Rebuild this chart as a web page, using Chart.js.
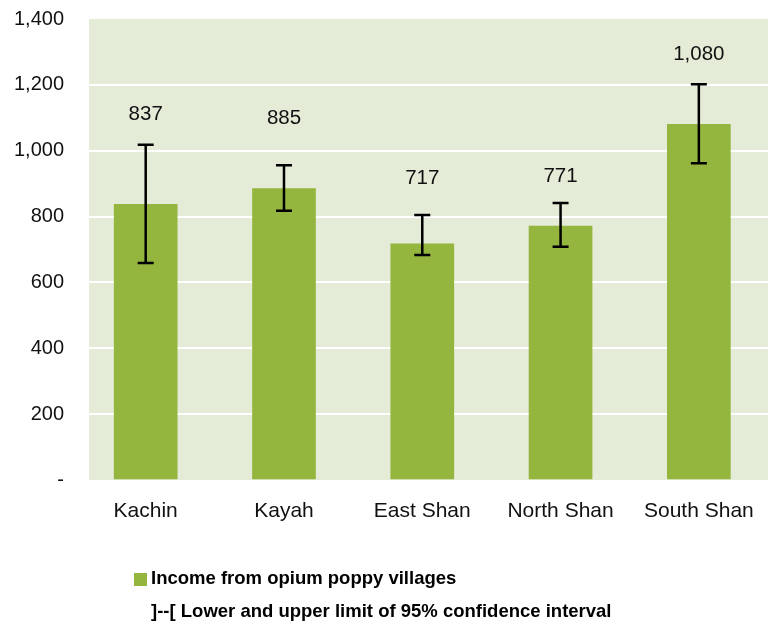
<!DOCTYPE html>
<html>
<head>
<meta charset="utf-8">
<script src="https://cdn.jsdelivr.net/npm/chart.js@4/dist/chart.umd.min.js"></script>
<style>
  html, body { margin: 0; padding: 0; background: #fff; }
  #wrap { width: 768px; height: 625px; }
</style>
</head>
<body>
<div id="wrap"><canvas id="chart"></canvas></div>
<script>
// Income per village, with 95% confidence limits
const categories = ['Kachin', 'Kayah', 'East Shan', 'North Shan', 'South Shan'];
const income = [837, 885, 717, 771, 1080];
const ciLower = [659, 818, 683, 708, 962];
const ciUpper = [1018, 956, 805, 841, 1202];
const yTicks = [0, 200, 400, 600, 800, 1000, 1200, 1400];

const FONT = "'Liberation Sans', Arial, sans-serif";
const fmt = v => v.toLocaleString('en-US');

// plot area fill
const plotBackground = {
    id: 'plotBackground',
    beforeDraw(chart) {
        const { ctx, chartArea: a } = chart;
        ctx.save();
        ctx.fillStyle = '#e4ebd7';
        ctx.fillRect(a.left, a.top, a.right - a.left, a.bottom - a.top);
        ctx.restore();
    }
};

// whiskers + value labels
const errorBars = {
    id: 'errorBars',
    afterDatasetsDraw(chart, args, opts) {
        const { ctx } = chart;
        const xs = chart.scales.x, ys = chart.scales.y;
        ctx.save();
        ctx.strokeStyle = '#000';
        ctx.lineWidth = 2.5;
        income.forEach((v, i) => {
            const x = xs.getPixelForValue(i);
            const hi = ys.getPixelForValue(ciUpper[i]);
            const lo = ys.getPixelForValue(ciLower[i]);
            ctx.beginPath();
            ctx.moveTo(x, hi); ctx.lineTo(x, lo);
            ctx.moveTo(x - 8, hi); ctx.lineTo(x + 8, hi);
            ctx.moveTo(x - 8, lo); ctx.lineTo(x + 8, lo);
            ctx.stroke();

            ctx.fillStyle = '#111';
            ctx.font = '20.5px ' + FONT;
            ctx.textAlign = 'center';
            ctx.textBaseline = 'middle';
            ctx.fillText(fmt(v), x, hi - opts.lift[i]);
        });
        ctx.restore();
    }
};

// two-line legend under the axis
const bottomLegend = {
    id: 'bottomLegend',
    afterDraw(chart) {
        const { ctx } = chart;
        const top = chart.chartArea.bottom;
        ctx.save();
        ctx.fillStyle = '#94b53e';
        ctx.fillRect(134, top + 93, 13, 13);
        ctx.fillStyle = '#000';
        ctx.font = 'bold 18.5px ' + FONT;
        ctx.textAlign = 'left';
        ctx.textBaseline = 'middle';
        ctx.fillText('Income from opium poppy villages', 151, top + 99);
        ctx.fillText(']--[ Lower and upper limit of 95% confidence interval', 151, top + 132);
        ctx.restore();
    }
};

new Chart(document.getElementById('chart'), {
    type: 'bar',
    data: {
        datasets: [{
            label: 'Income from opium poppy villages',
            data: income.map((v, i) => ({ x: i, y: v })),
            backgroundColor: '#94b53e',
            barThickness: 63
        }]
    },
    options: {
        responsive: true,
        maintainAspectRatio: false,
        animation: false,
        layout: { padding: { top: 19, right: 0, bottom: 0, left: 0 } },
        plugins: {
            legend: { display: false },
            tooltip: { enabled: false },
            errorBars: { lift: [30, 47, 37, 27, 30] }
        },
        scales: {
            x: {
                type: 'linear',
                min: -0.41,
                max: 4.5,
                offset: false,
                grid: { display: false },
                border: { display: false },
                afterBuildTicks: s => { s.ticks = categories.map((c, i) => ({ value: i })); },
                afterFit: s => { s.height = 145; },
                ticks: {
                    color: '#111',
                    font: { family: FONT, size: 21 },
                    padding: 11,
                    maxRotation: 0,
                    autoSkip: false,
                    callback: v => categories[v]
                }
            },
            y: {
                min: 0,
                max: 1400,
                afterBuildTicks: s => { s.ticks = yTicks.map(v => ({ value: v })); },
                afterFit: s => { s.width = 89; s.paddingTop = 0; s.paddingBottom = 0; },
                grid: {
                    drawTicks: false,
                    lineWidth: 2,
                    color: c => (c.tick.value === 0 || c.tick.value === 1400) ? 'rgba(0,0,0,0)' : '#ffffff'
                },
                border: { display: false },
                ticks: {
                    color: '#111',
                    font: { family: FONT, size: 20 },
                    padding: 25,
                    callback: v => v === 0 ? '-' : fmt(v)
                }
            }
        }
    },
    plugins: [plotBackground, errorBars, bottomLegend]
});
</script>
</body>
</html>
